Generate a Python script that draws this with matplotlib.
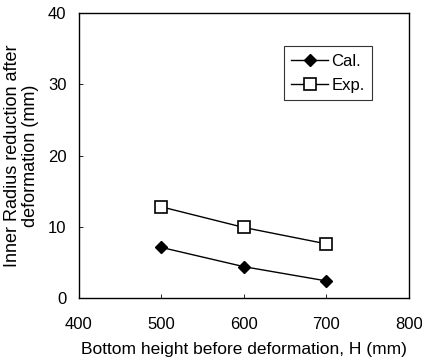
import matplotlib
matplotlib.use("Agg")
from matplotlib import pyplot as plt

# data
heights = [500, 600, 700]
cal_values = [7.1, 4.4, 2.4]
exp_values = [12.8, 9.9, 7.6]
x_ticks = [400, 500, 600, 700, 800]
y_ticks = [0, 10, 20, 30, 40]

plt.rcParams['font.family'] = ['Liberation Sans', 'DejaVu Sans']

fig = plt.figure(figsize=(4.22, 3.63), dpi=100)
ax = fig.add_axes([0.187, 0.179, 0.782, 0.785])

ax.plot(heights, cal_values, color='black', linewidth=1.0,
        marker='D', markersize=6, markerfacecolor='black', label='Cal.')
ax.plot(heights, exp_values, color='black', linewidth=1.0,
        marker='s', markersize=8, markerfacecolor='white',
        markeredgewidth=1.2, label='Exp.')

ax.set_xlim(400, 800)
ax.set_ylim(0, 40)
ax.set_xticks(x_ticks)
ax.set_yticks(y_ticks)
ax.tick_params(axis='both', direction='in', length=3, width=0.6,
               labelsize=12)
ax.tick_params(axis='x', pad=14)
ax.tick_params(axis='y', pad=9)
for side in ax.spines.values():
    side.set_linewidth(1.0)

ax.set_xlabel('Bottom height before deformation, H (mm)', fontsize=12.5, labelpad=7)
ax.set_ylabel('Inner Radius reduction after\ndeformation (mm)', fontsize=13,
              labelpad=6, linespacing=1.15)

leg = ax.legend(loc='upper right', bbox_to_anchor=(0.888, 0.884), fontsize=12,
                frameon=True, fancybox=False, edgecolor='black',
                handlelength=2.2, handletextpad=0.2, borderpad=0.45,
                labelspacing=0.55, borderaxespad=0)
leg.get_frame().set_linewidth(0.8)

fig.savefig('out.png', dpi=100)
